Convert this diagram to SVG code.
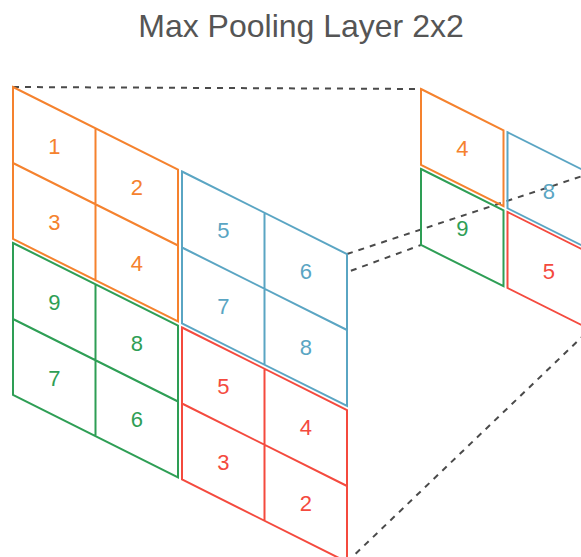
<svg xmlns="http://www.w3.org/2000/svg" width="581" height="557" viewBox="0 0 581 557">
<defs>
<style>
.title{font-family:"Liberation Sans",Arial,sans-serif;font-size:32px;fill:#555555;text-anchor:middle}
.lbl{font-family:"Liberation Sans",Arial,sans-serif;font-size:22px;text-anchor:middle}
.q{stroke-width:2;stroke-linejoin:miter}
.in{fill:#ffffff}
.out{fill:none}
.or{stroke:#F5822E}.or text,text.or{fill:#F5822E;stroke:none}
.bl{stroke:#5AA5C3}.bltx{fill:#5AA5C3}
.gr{stroke:#2E9E55}.grtx{fill:#2E9E55}
.rd{stroke:#F44A3E}.rdtx{fill:#F44A3E}
.ortx{fill:#F5822E}
.dash{stroke:#4A4A4A;stroke-width:2;stroke-dasharray:6 6;fill:none}
</style>
<path id="grid2" d="M0,0 L165,82.5 L165,234.5 L0,152 Z M82.5,41.25 V193.25 M0,76 L165,158.5"/>
<path id="cell1" d="M0,0 L82.5,41.25 L82.5,117.25 L0,76 Z"/>
</defs>
<text class="title" x="301" y="37">Max Pooling Layer 2x2</text>
<g id="connectors">
<line class="dash" x1="13" y1="87" x2="421" y2="89"/>
<line class="dash" x1="347" y1="254" x2="590" y2="173.5"/>
<line class="dash" x1="13" y1="395" x2="421" y2="245"/>
<line class="dash" x1="347" y1="562" x2="590" y2="329.25"/>
</g>
<g id="input-orange" transform="translate(13,87)">
<use href="#grid2" class="q in or"/>
<text class="lbl ortx" x="41.25" y="66.6">1</text>
<text class="lbl ortx" x="123.75" y="107.9">2</text>
<text class="lbl ortx" x="41.25" y="142.6">3</text>
<text class="lbl ortx" x="123.75" y="183.9">4</text>
</g>
<g id="input-blue" transform="translate(182,171.5)">
<use href="#grid2" class="q in bl"/>
<text class="lbl bltx" x="41.25" y="66.6">5</text>
<text class="lbl bltx" x="123.75" y="107.9">6</text>
<text class="lbl bltx" x="41.25" y="142.6">7</text>
<text class="lbl bltx" x="123.75" y="183.9">8</text>
</g>
<g id="input-green" transform="translate(13,243)">
<use href="#grid2" class="q in gr"/>
<text class="lbl grtx" x="41.25" y="66.6">9</text>
<text class="lbl grtx" x="123.75" y="107.9">8</text>
<text class="lbl grtx" x="41.25" y="142.6">7</text>
<text class="lbl grtx" x="123.75" y="183.9">6</text>
</g>
<g id="input-red" transform="translate(182,327.5)">
<use href="#grid2" class="q in rd"/>
<text class="lbl rdtx" x="41.25" y="66.6">5</text>
<text class="lbl rdtx" x="123.75" y="107.9">4</text>
<text class="lbl rdtx" x="41.25" y="142.6">3</text>
<text class="lbl rdtx" x="123.75" y="183.9">2</text>
</g>
<g id="output-orange" transform="translate(421,89)">
<use href="#cell1" class="q out or"/>
<text class="lbl ortx" x="41.25" y="66.6">4</text>
</g>
<g id="output-blue" transform="translate(507.5,132.25)">
<use href="#cell1" class="q out bl"/>
<text class="lbl bltx" x="41.25" y="66.6">8</text>
</g>
<g id="output-green" transform="translate(421,169)">
<use href="#cell1" class="q out gr"/>
<text class="lbl grtx" x="41.25" y="66.6">9</text>
</g>
<g id="output-red" transform="translate(507.5,212)">
<use href="#cell1" class="q out rd"/>
<text class="lbl rdtx" x="41.25" y="66.6">5</text>
</g>
</svg>
